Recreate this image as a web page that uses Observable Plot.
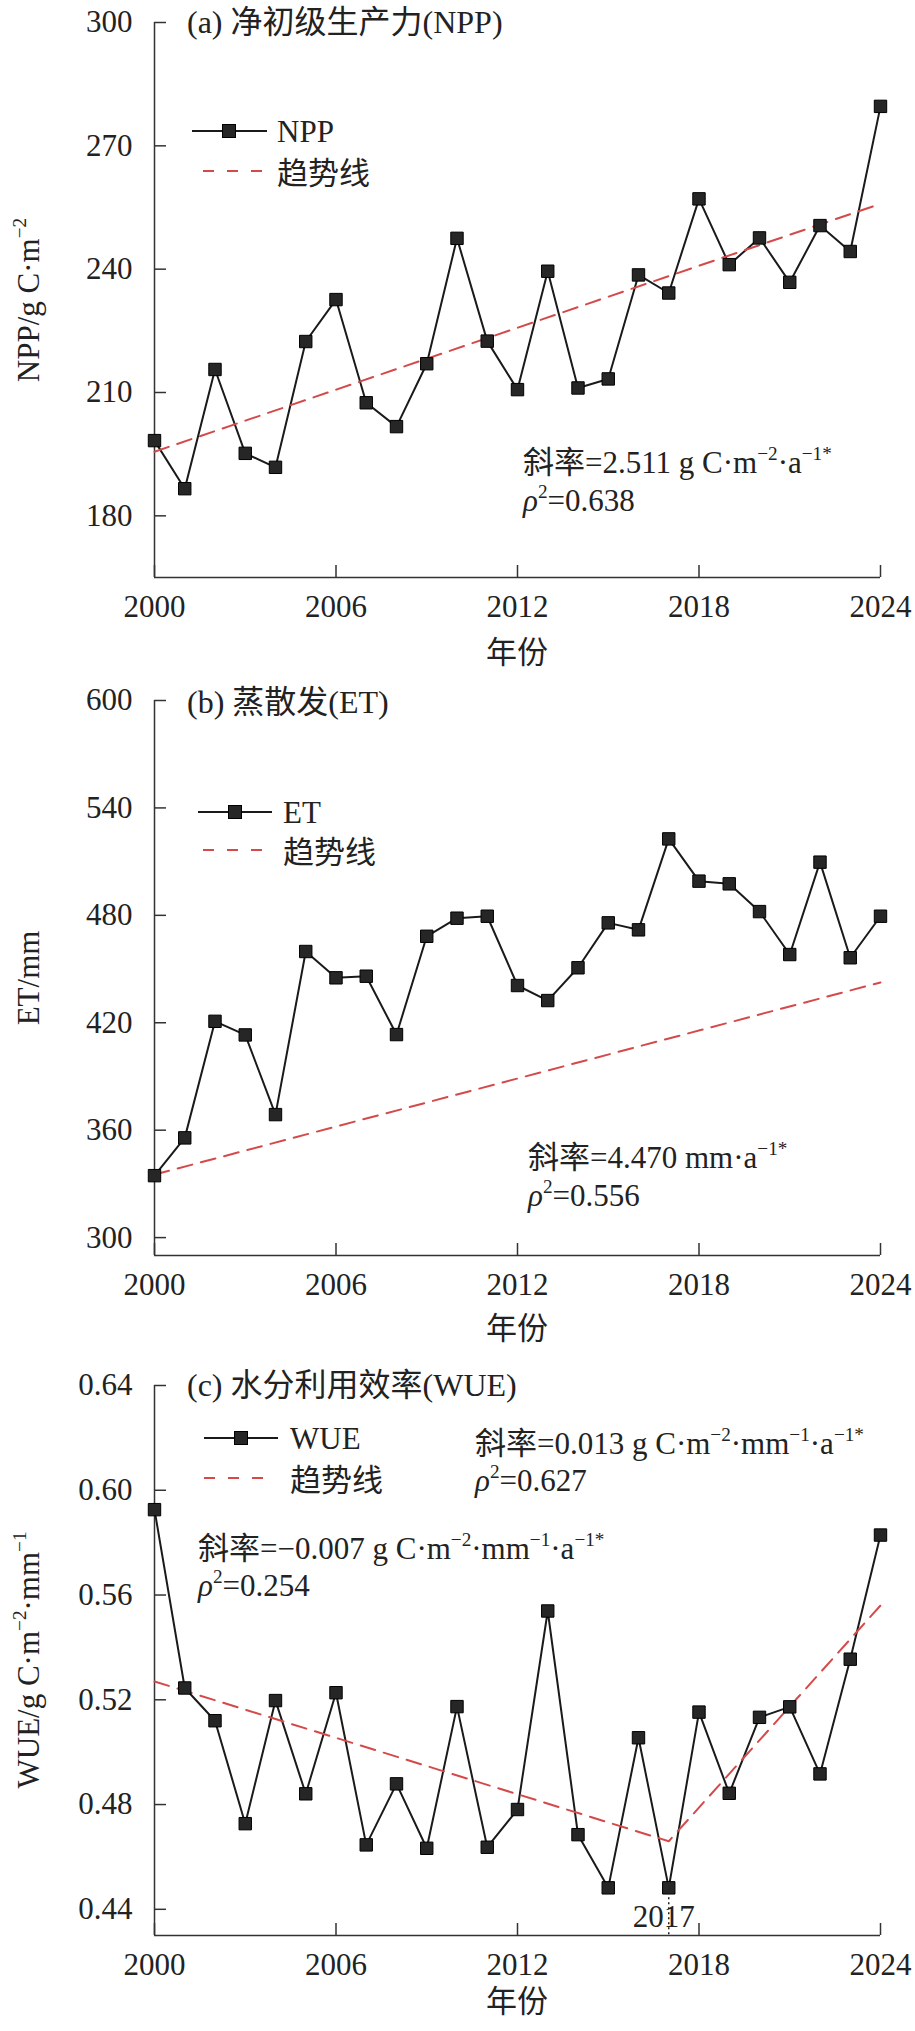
<!DOCTYPE html>
<html><head><meta charset="utf-8">
<script src="https://cdn.jsdelivr.net/npm/d3@7"></script>
<script src="https://cdn.jsdelivr.net/npm/@observablehq/plot@0.6"></script>
<style>
body{margin:0;background:#fff;}
#chart svg{display:block;}
</style></head><body><div id="chart"></div>
<script>
const years = [2000,2001,2002,2003,2004,2005,2006,2007,2008,2009,2010,2011,2012,2013,2014,2015,2016,2017,2018,2019,2020,2021,2022,2023,2024];
const npp = [198.3,186.6,215.6,195.2,191.8,222.4,232.6,207.5,201.7,217.0,247.5,222.5,210.7,239.5,211.1,213.3,238.6,234.2,257.1,241.1,247.6,236.8,250.6,244.3,279.6];
const et = [334.6,355.7,420.8,413.2,368.7,459.8,445.1,446.0,413.4,468.3,478.4,479.5,440.8,432.4,450.7,475.8,471.9,522.7,499.1,497.6,482.1,458.1,509.7,456.3,479.5];
const wue = [0.5926,0.5245,0.512,0.4727,0.5197,0.4841,0.5227,0.4646,0.4879,0.4633,0.5174,0.4637,0.4781,0.5539,0.4685,0.4482,0.5055,0.4482,0.5153,0.4843,0.5133,0.5173,0.4917,0.5355,0.5829];

const trendYearsAB = [2000, 2024];
const trendNPP = [195.6, 255.9];
const trendET = [335.2, 442.5];
const trendYearsC = [2000, 2017, 2024];
const trendWUE = [0.527, 0.466, 0.556];

const xTicks = [2000, 2006, 2012, 2018, 2024];
const yTicksA = [180, 210, 240, 270, 300];
const yTicksB = [300, 360, 420, 480, 540, 600];
const yTicksC = [0.44, 0.48, 0.52, 0.56, 0.60, 0.64];
const breakYear = [2017];

const FONT = "'Liberation Serif','Times New Roman','Noto Sans CJK SC',serif";
const INK = "#222";
const RED = "#d44a4a";

function panel({values, trendX, trendY, yDomain, yTicks, yFormat, height, marginTop, marginBottom, extra = []}) {
  const data = years.map((y, i) => ({year: y, v: values[i]}));
  const trend = trendX.map((x, i) => ({year: x, v: trendY[i]}));
  return Plot.plot({
    width: 915, height, marginLeft: 154, marginRight: 35, marginTop, marginBottom,
    style: {fontFamily: FONT, fontSize: "31px", color: INK, background: "#fff", overflow: "visible"},
    x: {domain: [2000, 2024], label: null},
    y: {domain: yDomain, label: null},
    marks: [
      Plot.axisX({ticks: xTicks, tickSize: -12, tickPadding: 29, tickFormat: d => String(d), label: null, strokeWidth: 1.5, stroke: "#333", fill: INK}),
      Plot.axisY({ticks: yTicks, tickSize: -12, tickPadding: 34, tickFormat: yFormat, label: null, strokeWidth: 1.5, stroke: "#333", fill: INK}),
      Plot.ruleX([2000], {stroke: "#333", strokeWidth: 1.5}),
      Plot.ruleY([yDomain[0]], {stroke: "#333", strokeWidth: 1.5}),
      Plot.line(data, {x: "year", y: "v", stroke: "#1a1a1a", strokeWidth: 2}),
      Plot.line(trend, {x: "year", y: "v", stroke: RED, strokeWidth: 2, strokeDasharray: "15,9"}),
      Plot.dot(data, {x: "year", y: "v", symbol: "square", r: 7, fill: "#262626", stroke: "#000", strokeWidth: 1}),
      ...extra
    ]
  });
}

function rich(g, x, y, str, {size = 31, anchor = "start", rotate = 0} = {}) {
  const t = g.append("text")
    .attr("x", x).attr("y", y + 0.34 * size)
    .attr("font-size", size).attr("font-family", FONT)
    .attr("fill", INK).attr("text-anchor", anchor);
  if (rotate) t.attr("transform", `rotate(${rotate},${x},${y})`);
  const re = /\^\{([^}]*)\}|~\{([^}]*)\}|([^\^~]+)/g;
  let m, shift = 0;
  const up = 0.4 * size;
  while ((m = re.exec(str))) {
    const sp = t.append("tspan");
    if (m[1] !== undefined) {
      sp.text(m[1]).attr("font-size", 0.62 * size).attr("dy", -up);
      shift = up;
    } else {
      sp.text(m[2] !== undefined ? m[2] : m[3]);
      if (m[2] !== undefined) sp.attr("font-style", "italic");
      if (shift) { sp.attr("dy", shift); shift = 0; }
    }
  }
  return t;
}

function legend(g, {y1, y2, x0, x1, sq, tx, d0, d1, name}) {
  g.append("line").attr("x1", x0).attr("x2", x1).attr("y1", y1).attr("y2", y1)
    .attr("stroke", "#1a1a1a").attr("stroke-width", 2);
  g.append("rect").attr("x", sq - 6.5).attr("y", y1 - 6.5).attr("width", 13).attr("height", 13)
    .attr("fill", "#262626").attr("stroke", "#000").attr("stroke-width", 1);
  rich(g, tx, y1, name);
  g.append("line").attr("x1", d0).attr("x2", d1).attr("y1", y2 - 2).attr("y2", y2 - 2)
    .attr("stroke", RED).attr("stroke-width", 2).attr("stroke-dasharray", "11,13");
  rich(g, tx, y2, "趋势线");
}

function decorate(svg, cfg) {
  const g = d3.select(svg).append("g");
  rich(g, 187, cfg.titleY, cfg.title, {size: 32});
  legend(g, cfg.legend);
  for (const a of cfg.ann) rich(g, a[0], a[1], a[2]);
  rich(g, 28, cfg.yLabelY, cfg.yLabel, {rotate: -90, anchor: "middle"});
  rich(g, 517, cfg.xLabelY, "年份", {anchor: "middle"});
}

const chart = document.getElementById("chart");

const svgA = panel({values: npp, trendX: trendYearsAB, trendY: trendNPP, yDomain: [165, 300], yTicks: yTicksA, yFormat: d => String(d), height: 678, marginTop: 22, marginBottom: 101});
decorate(svgA, {
  title: "(a) 净初级生产力(NPP)", titleY: 22,
  legend: {y1: 131, y2: 173, x0: 192, x1: 267, sq: 229, tx: 277, d0: 203, d1: 265, name: "NPP"},
  ann: [[523, 462, "斜率=2.511 g C·m^{−2}·a^{−1*}"], [523, 500, "~{ρ}^{2}=0.638"]],
  yLabel: "NPP/g C·m^{−2}", yLabelY: 300, xLabelY: 652
});
chart.appendChild(svgA);

const svgB = panel({values: et, trendX: trendYearsAB, trendY: trendET, yDomain: [290, 600], yTicks: yTicksB, yFormat: d => String(d), height: 678, marginTop: 22, marginBottom: 101});
decorate(svgB, {
  title: "(b) 蒸散发(ET)", titleY: 24,
  legend: {y1: 134, y2: 174, x0: 198, x1: 272, sq: 235, tx: 283, d0: 203, d1: 263, name: "ET"},
  ann: [[528, 479, "斜率=4.470 mm·a^{−1*}"], [528, 517, "~{ρ}^{2}=0.556"]],
  yLabel: "ET/mm", yLabelY: 300, xLabelY: 650
});
chart.appendChild(svgB);

const svgC = panel({values: wue, trendX: trendYearsC, trendY: trendWUE, yDomain: [0.43, 0.64], yTicks: yTicksC, yFormat: d3.format(".2f"), height: 675, marginTop: 29, marginBottom: 96,
  extra: [
    Plot.ruleX(breakYear, {x: d => d, y1: wue[years.indexOf(2017)], y2: 0.43, stroke: INK, strokeWidth: 1.5, strokeDasharray: "2,3"}),
    Plot.text(breakYear, {x: d => d, frameAnchor: "bottom", dy: -18, dx: -5, text: d => String(d), fontSize: 31, lineAnchor: "middle", fill: INK})
  ]});
decorate(svgC, {
  title: "(c) 水分利用效率(WUE)", titleY: 29,
  legend: {y1: 82, y2: 124, x0: 204, x1: 278, sq: 241, tx: 290, d0: 204, d1: 265, name: "WUE"},
  ann: [[475, 87, "斜率=0.013 g C·m^{−2}·mm^{−1}·a^{−1*}"], [475, 124, "~{ρ}^{2}=0.627"],
        [198, 192, "斜率=−0.007 g C·m^{−2}·mm^{−1}·a^{−1*}"], [198, 229, "~{ρ}^{2}=0.254"]],
  yLabel: "WUE/g C·m^{−2}·mm^{−1}", yLabelY: 304, xLabelY: 645
});
chart.appendChild(svgC);
</script></body></html>
